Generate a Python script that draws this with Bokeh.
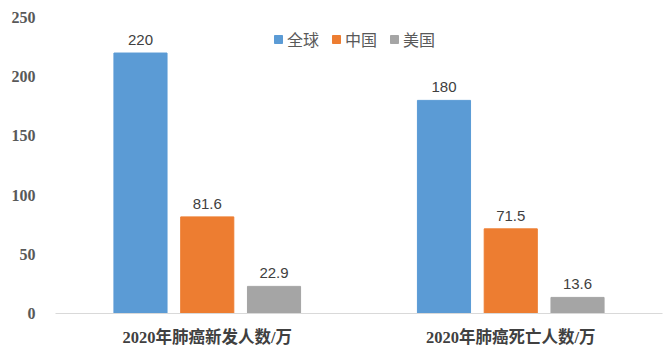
from bokeh.plotting import figure
from bokeh.models import ColumnDataSource, LabelSet, Legend, LegendItem, Range1d
from bokeh.core.properties import value
from bokeh.transform import dodge
from bokeh.embed import file_html
from bokeh.resources import INLINE

categories = ["2020年肺癌新发人数/万", "2020年肺癌死亡人数/万"]
series_names = ["全球", "中国", "美国"]
global_vals = [220, 180]
china_vals = [81.6, 71.5]
usa_vals = [22.9, 13.6]
y_ticks = [0, 50, 100, 150, 200, 250]

colors = ["#5B9BD5", "#ED7D31", "#A5A5A5"]
offsets = [-0.22, 0.0, 0.22]
fields = ["global", "china", "usa"]

source = ColumnDataSource(data=dict(
    cat=categories,
    **{"global": global_vals},
    china=china_vals,
    usa=usa_vals,
    global_lbl=[f"{v:g}" for v in global_vals],
    china_lbl=[f"{v:g}" for v in china_vals],
    usa_lbl=[f"{v:g}" for v in usa_vals],
))

p = figure(x_range=categories, y_range=Range1d(0, 250), width=670, height=354,
           output_backend="svg", toolbar_location=None,
           min_border_left=55, min_border_right=8, min_border_top=17, min_border_bottom=41)
p.outline_line_color = None
p.background_fill_color = "white"
p.border_fill_color = "white"
p.xgrid.grid_line_color = None
p.ygrid.grid_line_color = None

renderers = []
for f, c, off in zip(fields, colors, offsets):
    r = p.vbar(x=dodge("cat", off, range=p.x_range), top=f, width=0.175, source=source,
               fill_color=c, line_color=c)
    renderers.append(r)
    lbl = LabelSet(x=dodge("cat", off, range=p.x_range), y=f, text=f + "_lbl", source=source,
                   text_align="center", text_baseline="bottom", y_offset=8,
                   text_font=value("Liberation Sans"), text_font_size="15px", text_color="#404040")
    p.add_layout(lbl)

p.yaxis.ticker = y_ticks
p.yaxis.axis_line_color = None
p.yaxis.major_tick_line_color = None
p.yaxis.minor_tick_line_color = None
p.yaxis.major_label_text_font = "Liberation Serif"
p.yaxis.major_label_text_font_style = "bold"
p.yaxis.major_label_text_font_size = "16px"
p.yaxis.major_label_text_color = "#595959"
p.yaxis.major_label_standoff = 14

p.xaxis.axis_line_color = "#D9D9D9"
p.xaxis.axis_line_width = 1
p.xaxis.major_tick_line_color = None
p.xaxis.minor_tick_line_color = None
p.xaxis.major_label_text_font = "Liberation Serif, Noto Sans CJK SC"
p.xaxis.major_label_text_font_style = "bold"
p.xaxis.major_label_text_font_size = "16.5px"
p.xaxis.major_label_text_color = "#404040"
p.xaxis.major_label_standoff = 8

legend = Legend(items=[LegendItem(label=n, renderers=[r]) for n, r in zip(series_names, renderers)],
                orientation="horizontal", location=(218, 262),
                glyph_width=10, glyph_height=10, label_text_font_size="16px",
                label_text_font="Noto Sans CJK SC", label_text_color="#595959",
                label_standoff=4, spacing=12, padding=0, margin=0,
                border_line_color=None, background_fill_alpha=0)
p.add_layout(legend)

open("out.html", "w").write(file_html(p, INLINE))
